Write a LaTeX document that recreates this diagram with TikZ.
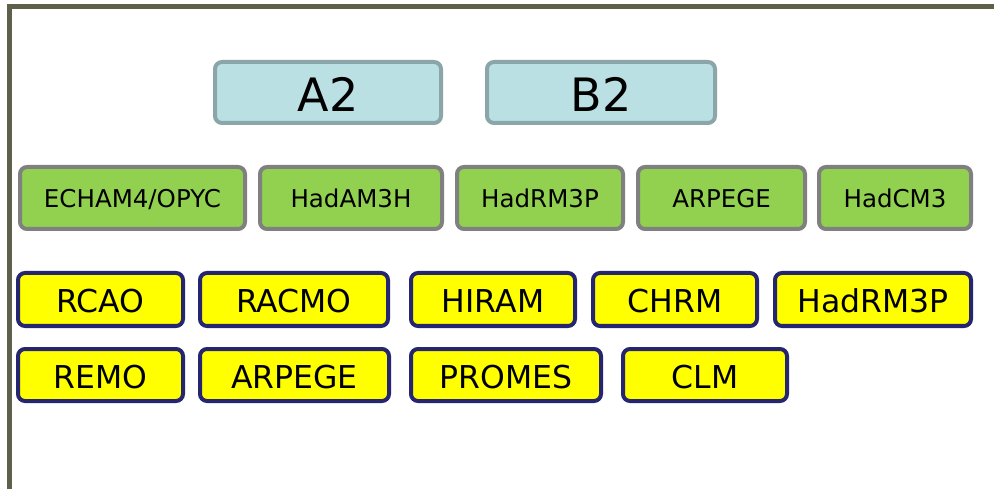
\documentclass[tikz,border=0pt]{standalone}
\usepackage{fontspec}
\setmainfont{DejaVu Sans}
\definecolor{framec}{HTML}{5F604A}
\definecolor{scenfill}{HTML}{BBE0E3}
\definecolor{scendraw}{HTML}{8AA6A8}
\definecolor{gcmfill}{HTML}{92D050}
\definecolor{gcmdraw}{HTML}{808080}
\definecolor{rcmfill}{HTML}{FFFF00}
\definecolor{rcmdraw}{HTML}{262670}
\tikzset{
  boxbase/.style={rectangle, rounded corners=7pt, line width=4pt, inner sep=0pt, text=black, anchor=center},
  scenbox/.style={boxbase, fill=scenfill, draw=scendraw, minimum height=61pt,
     font=\fontsize{46}{46}\selectfont, text height=38.5pt, text depth=0pt},
  gcmbox/.style={boxbase, fill=gcmfill, draw=gcmdraw, minimum height=62pt,
     font=\fontsize{24.5}{24.5}\selectfont, text height=19.8pt, text depth=0pt},
  rcmbox/.style={boxbase, fill=rcmfill, draw=rcmdraw,
     font=\fontsize{31.5}{31.5}\selectfont, text height=26pt, text depth=0pt},
  rcmone/.style={rcmbox, minimum height=53pt},
  rcmtwo/.style={rcmbox, minimum height=52pt},
  framestyle/.style={draw=framec, line width=5pt, line join=miter}
}
\begin{document}
\begin{tikzpicture}[x=1pt,y=-1pt]
\useasboundingbox (0,0) rectangle (994,489);
\fill[white] (0,0) rectangle (994,489);
\draw[framestyle] (9.5,492) -- (9.5,7) -- (997,7);
% scenarios
\node[scenbox, minimum width=226pt] (a2) at (328,92.5) {A2};
\node[scenbox, minimum width=228pt] (b2) at (601,92.5) {B2};
% GCMs
\node[gcmbox, minimum width=225pt] (echam) at (132.5,198) {ECHAM4/OPYC};
\node[gcmbox, minimum width=182pt] (hadam) at (351,198) {HadAM3H};
\node[gcmbox, minimum width=166pt] (hadrmg) at (540,198) {HadRM3P};
\node[gcmbox, minimum width=167pt] (arpegeg) at (721.5,198) {ARPEGE};
\node[gcmbox, minimum width=152pt] (hadcm) at (895,198) {HadCM3};
% RCMs row 1
\node[rcmone, minimum width=165pt] (rcao) at (100.5,299.5) {RCAO};
\node[rcmone, minimum width=188pt] (racmo) at (294,299.5) {RACMO};
\node[rcmone, minimum width=164pt] (hiram) at (493,299.5) {HIRAM};
\node[rcmone, minimum width=164pt] (chrm) at (675,299.5) {CHRM};
\node[rcmone, minimum width=196pt] (hadrmr) at (873,299.5) {HadRM3P};
% RCMs row 2
\node[rcmtwo, minimum width=165pt] (remo) at (100.5,375) {REMO};
\node[rcmtwo, minimum width=189pt] (arpeger) at (294.5,375) {ARPEGE};
\node[rcmtwo, minimum width=190pt] (promes) at (506,375) {PROMES};
\node[rcmtwo, minimum width=164pt] (clm) at (705,375) {CLM};
\end{tikzpicture}
\end{document}
